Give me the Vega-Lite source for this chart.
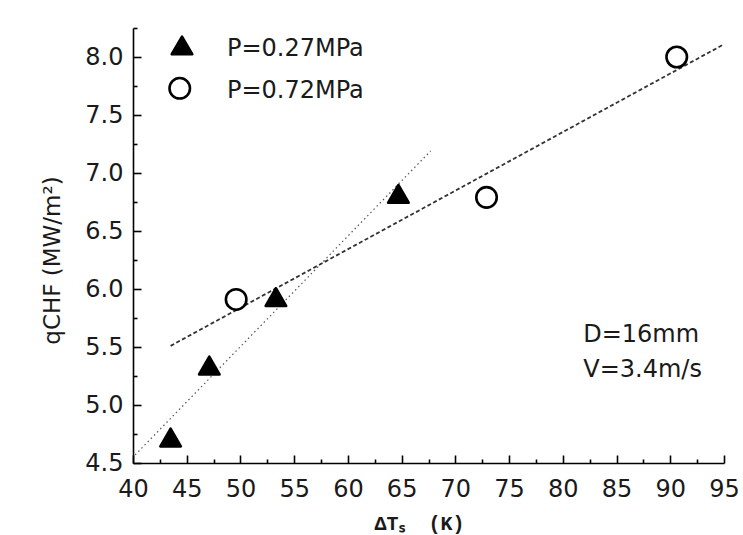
{
  "$schema": "https://vega.github.io/schema/vega-lite/v6.json",
  "width": 591,
  "height": 435,
  "autosize": "none",
  "padding": {"left": 133, "top": 28, "right": 19, "bottom": 72},
  "background": "white",
  "config": {
    "view": {"stroke": null},
    "font": "DejaVu Sans",
    "axis": {
      "grid": false,
      "domainColor": "black",
      "domainWidth": 1.6,
      "tickColor": "black",
      "tickWidth": 1.6,
      "labelFont": "DejaVu Sans",
      "labelFontSize": 24,
      "labelColor": "#1a1a1a",
      "labelFlush": false,
      "labelOverlap": false
    }
  },
  "resolve": {"axis": {"x": "independent", "y": "independent"}},
  "datasets": {
    "pts": [
      {"dt": 43.5, "q": 4.72, "series": "P=0.27MPa"},
      {"dt": 47.1, "q": 5.34, "series": "P=0.27MPa"},
      {"dt": 53.3, "q": 5.93, "series": "P=0.27MPa"},
      {"dt": 64.7, "q": 6.82, "series": "P=0.27MPa"},
      {"dt": 49.6, "q": 5.91, "series": "P=0.72MPa"},
      {"dt": 72.9, "q": 6.79, "series": "P=0.72MPa"},
      {"dt": 90.6, "q": 8.0, "series": "P=0.72MPa"}
    ],
    "key": [
      {"dt": 44.56, "q": 8.1, "tdt": 48.74, "tq": 8.07, "series": "P=0.27MPa"},
      {"dt": 44.35, "q": 7.73, "tdt": 48.74, "tq": 7.71, "series": "P=0.72MPa"}
    ],
    "fits": [
      {"dt": 40.2, "q": 4.57, "fit": "dotted"},
      {"dt": 67.7, "q": 7.19, "fit": "dotted"},
      {"dt": 43.5, "q": 5.51, "fit": "dashed"},
      {"dt": 95.0, "q": 8.11, "fit": "dashed"}
    ],
    "notes": [
      {"dt": 81.9, "q": 5.6, "label": "D=16mm"},
      {"dt": 81.9, "q": 5.3, "label": "V=3.4m/s"}
    ]
  },
  "layer": [
    {
      "data": {"name": "fits"},
      "transform": [{"filter": "datum.fit === 'dotted'"}],
      "mark": {"type": "line", "color": "#555", "strokeWidth": 1.2, "strokeDash": [1.5, 3], "clip": false},
      "encoding": {
        "x": {
          "field": "dt", "type": "quantitative",
          "scale": {"domain": [40, 95], "nice": false, "zero": false},
          "axis": {
            "orient": "bottom",
            "values": [42.5, 47.5, 52.5, 57.5, 62.5, 67.5, 72.5, 77.5, 82.5, 87.5, 92.5],
            "tickSize": -4,
            "labels": false,
            "domain": false,
            "title": null
          }
        },
        "y": {
          "field": "q", "type": "quantitative",
          "scale": {"domain": [4.5, 8.25], "nice": false, "zero": false},
          "axis": {
            "orient": "left",
            "values": [4.75, 5.25, 5.75, 6.25, 6.75, 7.25, 7.75, 8.25],
            "tickSize": -4,
            "labels": false,
            "domain": false,
            "title": null
          }
        }
      }
    },
    {
      "data": {"name": "fits"},
      "transform": [{"filter": "datum.fit === 'dashed'"}],
      "mark": {"type": "line", "color": "#333", "strokeWidth": 1.8, "strokeDash": [4, 2.5], "clip": false},
      "encoding": {
        "x": {"field": "dt", "type": "quantitative", "axis": null},
        "y": {"field": "q", "type": "quantitative", "axis": null}
      }
    },
    {
      "data": {"name": "pts"},
      "mark": {"type": "point", "filled": false, "size": 420, "strokeWidth": 2.6, "opacity": 1, "stroke": "black", "strokeJoin": "round"},
      "encoding": {
        "x": {
          "field": "dt",
          "type": "quantitative",
          "axis": {
            "orient": "bottom",
            "values": [40, 45, 50, 55, 60, 65, 70, 75, 80, 85, 90, 95],
            "format": "d",
            "tickSize": -8,
            "labelPadding": 22,
            "title": "ΔTₛ\u00a0\u00a0(K)",
            "titleFont": "Liberation Mono",
            "titleFontWeight": "bold",
            "titleFontSize": 20,
            "titleColor": "#1a1a1a",
            "titleX": 286,
            "titleY": 60,
            "titleBaseline": "middle",
            "titleAlign": "center"
          }
        },
        "y": {
          "field": "q",
          "type": "quantitative",
          "axis": {
            "orient": "left",
            "values": [4.5, 5, 5.5, 6, 6.5, 7, 7.5, 8],
            "format": ".1f",
            "tickSize": -8,
            "labelPadding": 18,
            "title": "qCHF (MW/m²)",
            "titleFont": "DejaVu Sans",
            "titleFontWeight": "normal",
            "titleFontSize": 23,
            "titleColor": "#1a1a1a",
            "titleAngle": 270,
            "titleX": -81,
            "titleY": 232,
            "titleBaseline": "middle",
            "titleAlign": "center"
          }
        },
        "shape": {
          "field": "series",
          "type": "nominal",
          "scale": {"domain": ["P=0.27MPa", "P=0.72MPa"], "range": ["triangle-up", "circle"]},
          "legend": null
        },
        "fill": {
          "field": "series",
          "type": "nominal",
          "scale": {"domain": ["P=0.27MPa", "P=0.72MPa"], "range": ["black", "white"]},
          "legend": null
        }
      }
    },
    {
      "data": {"name": "key"},
      "mark": {"type": "point", "filled": false, "size": 420, "strokeWidth": 2.6, "opacity": 1, "stroke": "black", "strokeJoin": "round"},
      "encoding": {
        "x": {"field": "dt", "type": "quantitative", "axis": null},
        "y": {"field": "q", "type": "quantitative", "axis": null},
        "shape": {"field": "series", "type": "nominal", "legend": null},
        "fill": {"field": "series", "type": "nominal", "legend": null}
      }
    },
    {
      "data": {"name": "key"},
      "mark": {"type": "text", "align": "left", "baseline": "middle", "font": "DejaVu Sans", "fontSize": 24, "color": "#1a1a1a"},
      "encoding": {
        "x": {"field": "tdt", "type": "quantitative", "axis": null},
        "y": {"field": "tq", "type": "quantitative", "axis": null},
        "text": {"field": "series"}
      }
    },
    {
      "data": {"name": "notes"},
      "mark": {"type": "text", "align": "left", "baseline": "middle", "font": "DejaVu Sans", "fontSize": 24, "color": "#1a1a1a"},
      "encoding": {
        "x": {"field": "dt", "type": "quantitative", "axis": null},
        "y": {"field": "q", "type": "quantitative", "axis": null},
        "text": {"field": "label"}
      }
    }
  ]
}
